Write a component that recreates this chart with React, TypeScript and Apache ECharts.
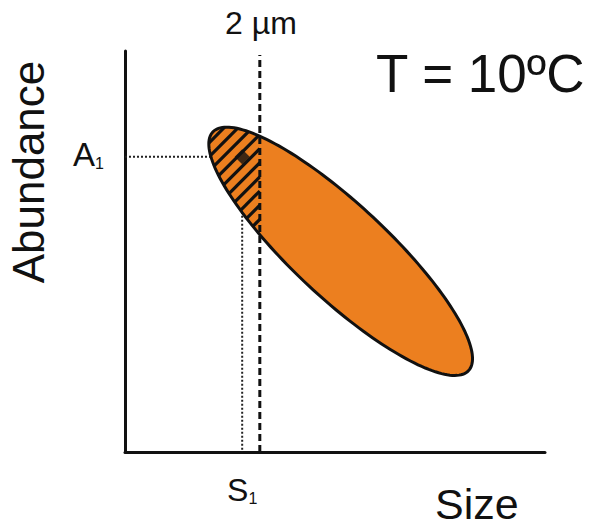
import React, { useEffect, useRef } from "react";
import * as echarts from "echarts";

// ---- data (arbitrary conceptual units) ----
const sizeRange = [0, 100];
const abundanceRange = [0, 100];
const ellipseTipLeft = [20.9, 79.8];
const ellipseTipRight = [81.8, 20.3];
const threshold2um = 32.1;
const thresholdTop = 99;
const pointS1 = 27.9;
const pointA1 = 73.6;
const axisTitleX = "Size";
const axisTitleY = "Abundance";
const thresholdLabel = "2 µm";
const tempLabel = "T = 10ºC";
const markLabelA = ["A", "1"];
const markLabelS = ["S", "1"];

const FONT = "'Liberation Sans', Arial, Helvetica, sans-serif";
const ORANGE = "#EC7F1F";
const INK = "#111111";
const ELLIPSE_HALF_WIDTH = 47;
const HATCH_STEP = 10;

function ellipseGeom(api: any) {
  const p1 = api.coord([api.value(0), api.value(1)]);
  const p2 = api.coord([api.value(2), api.value(3)]);
  const cx = (p1[0] + p2[0]) / 2;
  const cy = (p1[1] + p2[1]) / 2;
  const dx = p2[0] - p1[0];
  const dy = p2[1] - p1[1];
  const len = Math.hypot(dx, dy);
  const u = [dx / len, dy / len];
  const v = [-u[1], u[0]];
  return { cx, cy, a: len / 2, b: ELLIPSE_HALF_WIDTH, u, v };
}

function renderEllipse(params: any, api: any) {
  const g = ellipseGeom(api);
  const pts: number[][] = [];
  const N = 180;
  for (let i = 0; i < N; i++) {
    const t = (2 * Math.PI * i) / N;
    const ca = g.a * Math.cos(t);
    const sb = g.b * Math.sin(t);
    pts.push([g.cx + ca * g.u[0] + sb * g.v[0], g.cy + ca * g.u[1] + sb * g.v[1]]);
  }
  const thrPx = api.coord([api.value(4), 0])[0];
  let cmin = Infinity;
  let cmax = -Infinity;
  pts.forEach((p) => {
    cmin = Math.min(cmin, p[0] + p[1]);
    cmax = Math.max(cmax, p[0] + p[1]);
  });
  const step = HATCH_STEP * Math.SQRT2;
  const a2 = g.a * g.a;
  const b2 = g.b * g.b;
  const wu = g.u[0] - g.u[1];
  const wv = g.v[0] - g.v[1];
  const hatch: any[] = [];
  for (let c = cmin + step * 0.5; c < cmax; c += step) {
    const q0 = -g.cx;
    const q1 = c - g.cy;
    const qu = q0 * g.u[0] + q1 * g.u[1];
    const qv = q0 * g.v[0] + q1 * g.v[1];
    const A = (wu * wu) / a2 + (wv * wv) / b2;
    const B = 2 * ((wu * qu) / a2 + (wv * qv) / b2);
    const C = (qu * qu) / a2 + (qv * qv) / b2 - 1;
    const disc = B * B - 4 * A * C;
    if (disc <= 0) continue;
    const sq = Math.sqrt(disc);
    const s1 = (-B - sq) / (2 * A);
    let s2 = (-B + sq) / (2 * A);
    s2 = Math.min(s2, thrPx);
    if (s2 <= s1) continue;
    hatch.push({
      type: "line",
      shape: { x1: s1, y1: c - s1, x2: s2, y2: c - s2 },
      style: { stroke: INK, lineWidth: 3.2 },
    });
  }
  return {
    type: "group",
    children: [
      { type: "polygon", shape: { points: pts }, style: { fill: ORANGE, stroke: null } },
      ...hatch,
      { type: "polygon", shape: { points: pts }, style: { fill: "none", stroke: INK, lineWidth: 3 } },
    ],
  };
}

function subText(parts: string[], big: number, small: number) {
  return {
    text: `{m|${parts[0]}}{s|${parts[1]}}`,
    rich: {
      m: { fontSize: big, fontFamily: FONT, fill: INK, lineHeight: big, verticalAlign: "bottom" },
      s: { fontSize: small, fontFamily: FONT, fill: INK, lineHeight: small, verticalAlign: "bottom" },
    },
  };
}

function renderMarks(params: any, api: any) {
  const p = api.coord([api.value(0), api.value(1)]);
  const origin = api.coord([0, 0]);
  return {
    type: "group",
    children: [
      {
        type: "text",
        x: origin[0] - 21,
        y: p[1] - 2,
        style: { ...subText(markLabelA, 33, 16), align: "right", verticalAlign: "middle" },
      },
      {
        type: "text",
        x: p[0],
        y: origin[1] + 38,
        style: { ...subText(markLabelS, 32, 16), align: "center", verticalAlign: "middle" },
      },
    ],
  };
}

export default function App() {
  const ref = useRef<HTMLDivElement>(null);
  useEffect(() => {
    if (!ref.current) return;
    const chart = echarts.init(ref.current, null, { renderer: "svg" });
    chart.setOption({
      animation: false,
      backgroundColor: "#ffffff",
      grid: { left: 125, top: 51, width: 420, height: 401 },
      xAxis: {
        type: "value",
        min: sizeRange[0],
        max: sizeRange[1],
        axisLine: { show: true, lineStyle: { color: INK, width: 3 } },
        axisTick: { show: false },
        axisLabel: { show: false },
        splitLine: { show: false },
      },
      yAxis: {
        type: "value",
        min: abundanceRange[0],
        max: abundanceRange[1],
        axisLine: { show: true, lineStyle: { color: INK, width: 3 } },
        axisTick: { show: false },
        axisLabel: { show: false },
        splitLine: { show: false },
      },
      graphic: [
        {
          type: "text",
          x: 28,
          y: 172,
          rotation: Math.PI / 2,
          style: {
            text: axisTitleY,
            font: `44px ${FONT}`,
            fill: INK,
            align: "center",
            verticalAlign: "middle",
          },
        },
        {
          type: "text",
          x: 435,
          y: 504,
          style: {
            text: axisTitleX,
            font: `43px ${FONT}`,
            lineHeight: 40,
            fill: INK,
            align: "left",
            verticalAlign: "middle",
          },
        },
        {
          type: "text",
          x: 376,
          y: 73,
          style: { text: tempLabel, font: `53px ${FONT}`, fill: INK, align: "left", verticalAlign: "middle" },
        },
        {
          type: "text",
          x: 261,
          y: 23,
          style: { text: thresholdLabel, font: `32px ${FONT}`, fill: INK, align: "center", verticalAlign: "middle" },
        },
      ],
      series: [
        {
          type: "custom",
          renderItem: renderEllipse,
          encode: { x: [0, 2], y: [1, 3] },
          data: [[ellipseTipLeft[0], ellipseTipLeft[1], ellipseTipRight[0], ellipseTipRight[1], threshold2um]],
          z: 2,
          silent: true,
        },
        {
          type: "line",
          data: [
            [0, pointA1],
            [pointS1, pointA1],
            [pointS1, 0],
          ],
          symbol: "none",
          lineStyle: { color: "#222222", width: 2, type: [2, 2] },
          z: 1,
          silent: true,
        },
        {
          type: "line",
          data: [
            [threshold2um, 0],
            [threshold2um, thresholdTop],
          ],
          symbol: "none",
          lineStyle: { color: INK, width: 3, type: [7, 4] },
          z: 3,
          silent: true,
        },
        {
          type: "scatter",
          data: [[pointS1, pointA1]],
          symbol: "diamond",
          symbolSize: 15,
          itemStyle: { color: INK },
          z: 4,
          silent: true,
        },
        {
          type: "custom",
          renderItem: renderMarks,
          encode: { x: 0, y: 1 },
          data: [[pointS1, pointA1]],
          z: 5,
          silent: true,
        },
      ],
    });
    return () => chart.dispose();
  }, []);
  return (
    <div
      ref={ref}
      style={{ position: "absolute", left: 0, top: 0, width: 592, height: 527, background: "#fff" }}
    />
  );
}
